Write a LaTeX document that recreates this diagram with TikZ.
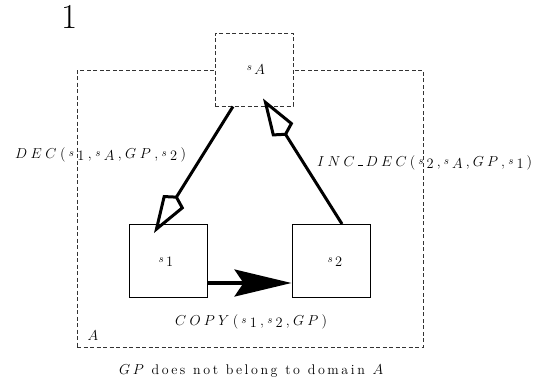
\documentclass[tikz,border=0pt]{standalone}
\usepackage{fontspec}
\usetikzlibrary{arrows.meta}
\newcommand\G{\hfil}
\newcommand\W{\hfil\hfil\hfil}
\newcommand\sub[1]{\raisebox{-2.5pt}{$#1$}}
\newcommand\sv{\raisebox{2pt}{\fontsize{10.5}{12}\selectfont$s$}}
\tikzset{
  lbl/.style={inner sep=0pt, font=\fontsize{14}{16}\selectfont},
  statebox/.style={draw, line width=1pt, minimum width=78pt, minimum height=73pt, inner sep=0pt},
  dashbox/.style={draw=black!80, line width=1pt, dash pattern=on 4pt off 2.5pt, inner sep=0pt},
  thick line/.style={line width=3pt},
  openkite/.style={-{Kite[open, length=44pt, width=25pt, inset=7pt, line width=3pt]}},
  bigstealth/.style={-{Stealth[length=57pt, width=27pt, inset=9pt]}},
}
\begin{document}
\begin{tikzpicture}[x=1pt, y=-1pt]
\useasboundingbox (0,0) rectangle (538,383);
% domain A
\node[dashbox, minimum width=346pt, minimum height=277pt] (A) at (250,208.5) {};
% state boxes
\node[dashbox, fill=white, minimum width=78pt, minimum height=73pt] (sA) at (254,69.5) {};
\node[statebox] (s1) at (168,261) {};
\node[statebox] (s2) at (331,261) {};
% labels inside boxes
\node[lbl] (sAlab) at (256,70) {\sv\,\sub{A}};
\node[lbl] (s1lab) at (166,262) {\sv\,\sub{1}};
\node[lbl] (s2lab) at (335,262) {\sv\,\sub{2}};
% big number
\node[inner sep=0pt, font=\fontsize{35}{40}\selectfont] (one) at (70,17) {1};
% connectors
\draw[thick line, openkite] ([xshift=-21pt]sA.south) -- ([xshift=-14pt, yshift=-9pt]s1.north);
\draw[thick line, openkite] ([xshift=11pt]s2.north) -- ([xshift=9pt, yshift=8pt]sA.south);
\draw[line width=3.5pt, bigstealth] ([yshift=-22pt]s1.east) -- ([yshift=-22pt]s2.west);
% texts
\node[lbl, anchor=base west] (dec) at (15,158) {\makebox[171pt][s]{$D$\G$E$\G$C$\G$($\G\sv\G\sub{1}\G$,$\G\sv\G\sub{A}\G$,$\G$G$\G$P$\G$,$\G\sv\G\sub{2}\G$)$}};
\node[lbl, anchor=base west] (incdec) at (317,166) {\makebox[215pt][s]{$I$\G$N$\G$C$\G\rule{5pt}{1.5pt}\G$D$\G$E$\G$C$\G$($\G\sv\G\sub{2}\G$,$\G\sv\G\sub{A}\G$,$\G$G$\G$P$\G$,$\G\sv\G\sub{1}\G$)$}};
\node[lbl, anchor=base west] (copy) at (175,325) {\makebox[152pt][s]{$C$\G$O$\G$P$\G$Y$\G$($\G\sv\G\sub{1}\G$,$\G\sv\G\sub{2}\G$,$\G$G$\G$P$\G$)$}};
\node[lbl] (Alab) at (93,336) {$A$};
\node[lbl, anchor=base west] (note) at (119,374) {\makebox[264pt][s]{$G$\G$P$\W d\G o\G e\G s\W n\G o\G t\W b\G e\G l\G o\G n\G g\W t\G o\W d\G o\G m\G a\G i\G n\W $A$}};
\end{tikzpicture}
\end{document}
